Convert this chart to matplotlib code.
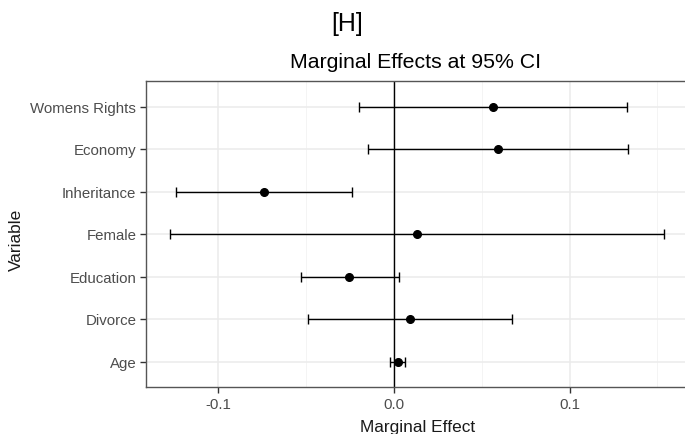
import numpy as np
import matplotlib.pyplot as plt
from matplotlib.ticker import MultipleLocator

# data (bottom to top)
variables = ["Age", "Divorce", "Education", "Female", "Inheritance", "Economy", "Womens Rights"]
effect = [0.0021, 0.0091, -0.0255, 0.0133, -0.0739, 0.0591, 0.0566]
lower = [-0.0021, -0.0492, -0.0532, -0.1276, -0.1242, -0.0150, -0.0199]
upper = [0.0063, 0.0674, 0.0028, 0.1537, -0.0239, 0.1332, 0.1326]

plt.rcParams["font.family"] = ["Liberation Sans", "DejaVu Sans"]

W, H = 685, 435
fig = plt.figure(figsize=(W / 100, H / 100), dpi=100)
ax = fig.add_axes([146 / W, (H - 388) / H, (688.5 - 146) / W, (388 - 82) / H])

y = np.arange(1, len(variables) + 1)
eff = np.array(effect)
err = np.vstack([eff - np.array(lower), np.array(upper) - eff])

# grid
ax.set_axisbelow(True)
ax.xaxis.set_major_locator(MultipleLocator(0.1))
ax.xaxis.set_minor_locator(MultipleLocator(0.05))
ax.grid(which="major", color="#EBEBEB", lw=1.1)
ax.grid(which="minor", axis="x", color="#F2F2F2", lw=0.6)

ax.axvline(0, color="black", lw=1.0, zorder=2)
ax.errorbar(eff, y, xerr=err, fmt="none", ecolor="black", elinewidth=1.0,
            capsize=3.5, capthick=1.0, zorder=3)
ax.plot(eff, y, "o", color="black", ms=5.5, zorder=4)

ax.set_xlim(-0.1413, 0.1678)
ax.set_ylim(0.4, 7.6)
ax.set_yticks(y)
ax.set_yticklabels(variables)
ax.set_xticks([-0.1, 0.0, 0.1])
ax.set_xticklabels(["-0.1", "0.0", "0.1"])
ax.tick_params(which="major", length=4, width=1, color="#333333",
               labelcolor="#4D4D4D", labelsize=10.8, pad=3)
ax.tick_params(which="minor", length=0)

for s in ax.spines.values():
    s.set_color("#555555")
    s.set_linewidth(1.0)

ax.set_xlabel("Marginal Effect", fontsize=12.4, color="#1A1A1A", labelpad=6)
fig.text(16 / W, 1 - 240 / H, "Variable", rotation=90, ha="center", va="center",
         fontsize=12.4, color="#1A1A1A")

fig.text(416 / W, 1 - 62 / H, "Marginal Effects at 95% CI", ha="center", va="center",
         fontsize=15.3, color="black")
fig.text(347 / W, 1 - 24 / H, "[H]", ha="center", va="center", fontsize=18,
         color="black")

fig.savefig("out.png", dpi=100)
